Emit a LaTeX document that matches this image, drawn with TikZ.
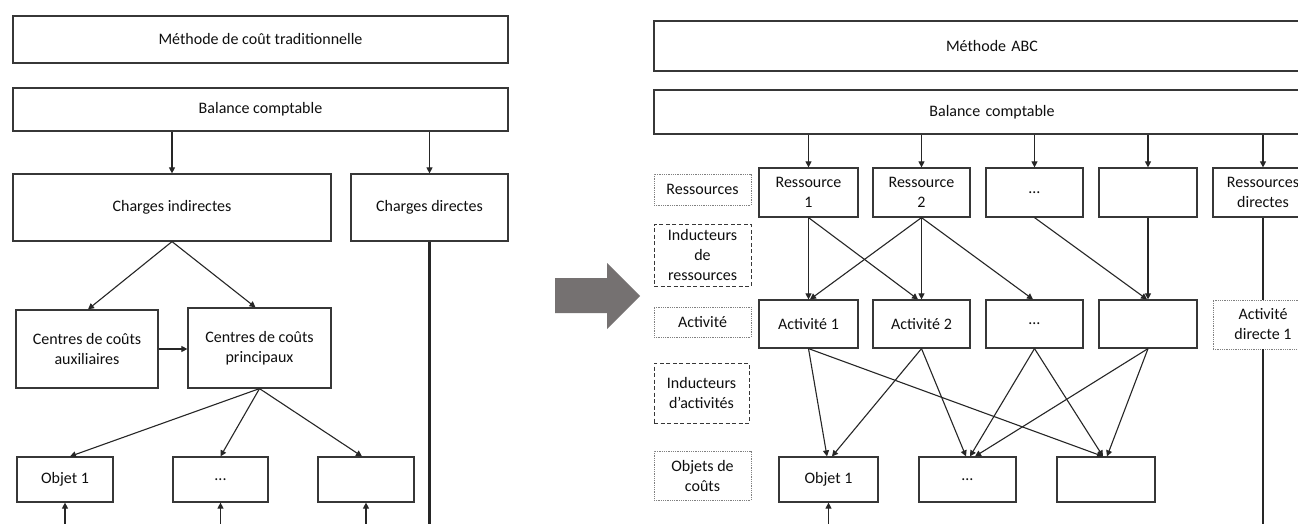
\documentclass[tikz,border=0pt]{standalone}
\usepackage{fontspec}
\setmainfont{Carlito}
\usetikzlibrary{arrows.meta}
\definecolor{arrowgray}{RGB}{117,113,113}
\definecolor{linegray}{RGB}{55,55,55}
\definecolor{txt}{RGB}{15,15,15}
\begin{document}
\begin{tikzpicture}[x=1pt,y=-1pt,
  box/.style={draw=linegray, line width=1.2pt, fill=white, align=center, inner sep=0pt,
    text=txt, font=\fontsize{16}{20}\selectfont},
  dotbox/.style={box, draw=gray, line width=0.9pt, dash pattern=on 0.9pt off 0.9pt},
  dashbox/.style={box, draw=linegray, line width=1pt, dash pattern=on 4pt off 2.5pt},
  arr/.style={draw=black!85, line width=1.1pt, -{Triangle[length=6pt,width=6pt]}},
  ln/.style={draw=black!85, line width=1.1pt}]
\useasboundingbox (0,0) rectangle (1298,524);
\clip (0,0) rectangle (1298,524);
\fill[white] (0,0) rectangle (1298,524);
\coordinate (bot) at (0,530);

% ---------------- left panel ----------------
\node[box, minimum width=495pt, minimum height=47pt] (t1) at (260.5,39.5) {Méthode de coût traditionnelle};
\node[box, minimum width=495pt, minimum height=43pt] (b1) at (260.5,109.5) {Balance comptable};
\node[box, minimum width=318pt, minimum height=67pt] (ci) at (172,207.5) {Charges indirectes};
\node[box, minimum width=157pt, minimum height=67pt] (cd) at (429.5,207.5) {Charges directes};
\node[box, minimum width=142pt, minimum height=78pt] (caux) at (87,349) {Centres de coûts\\auxiliaires};
\node[box, minimum width=143pt, minimum height=80pt] (cpr) at (259.5,348) {Centres de coûts\\principaux};
\node[box, minimum width=96pt, minimum height=45pt] (o1) at (65,479.5) {Objet 1};
\node[box, minimum width=95pt, minimum height=45pt] (o2) at (220.5,479.5) {...};
\node[box, minimum width=96pt, minimum height=45pt] (o3) at (366,479.5) {};

\draw[arr] (ci.north |- b1.south) -- (ci.north);
\draw[arr] (cd.north |- b1.south) -- (cd.north);
\draw[arr] (ci.south) -- ([xshift=1pt]caux.north);
\draw[arr] (ci.south) -- ([xshift=-4pt]cpr.north);
\draw[arr] (caux.east) -- (caux.east -| cpr.west);
\draw[arr] (cpr.south) -- ([xshift=5pt]o1.north);
\draw[arr] (cpr.south) -- (o2.north);
\draw[arr] (cpr.south) -- ([xshift=-4pt]o3.north);
\draw[arr] (o1.south |- bot) -- (o1.south);
\draw[arr] (o2.south |- bot) -- (o2.south);
\draw[arr] (o3.south |- bot) -- (o3.south);
\draw[draw=black!85, line width=2.6pt] (cd.south) -- (cd.south |- bot);

% ---------------- big arrow ----------------
\fill[arrowgray] (555,278) -- (607,278) -- (607,263) -- (640,296) -- (607,329) -- (607,313) -- (555,313) -- cycle;

% ---------------- right panel ----------------
\node[box, minimum width=676pt, minimum height=50pt, text width=288pt] (t2) at (992,46) {Méthode ABC};
\node[box, minimum width=676pt, minimum height=44pt, text width=288pt] (b2) at (992,112) {Balance comptable};

% labels
\node[dotbox, minimum width=97pt, minimum height=31pt] (l1) at (702.5,189.5) {Ressources};
\node[dashbox, minimum width=97pt, minimum height=62pt] (l2) at (702.5,255) {Inducteurs\\de\\ressources};
\node[dotbox, minimum width=97pt, minimum height=30pt] (l3) at (702.5,322) {Activité};
\node[dashbox, minimum width=95pt, minimum height=60pt] (l4) at (701.5,393) {Inducteurs\\d’activités};
\node[dotbox, minimum width=97pt, minimum height=49pt] (l5) at (702.5,475.5) {Objets de\\coûts};

% row 1
\node[box, minimum width=99pt, minimum height=49pt] (r1) at (808.5,192.5) {Ressource\\1};
\node[box, minimum width=97pt, minimum height=49pt] (r2) at (921.5,192.5) {Ressource\\2};
\node[box, minimum width=97pt, minimum height=49pt] (r3) at (1034.5,192.5) {…};
\node[box, minimum width=98pt, minimum height=49pt] (r4) at (1148,192.5) {};
\node[box, minimum width=100pt, minimum height=49pt] (rd) at (1263,192.5) {Ressources\\directes};

% row 2
\node[box, minimum width=99pt, minimum height=48pt] (a1) at (808.5,324) {Activité 1};
\node[box, minimum width=97pt, minimum height=48pt] (a2) at (921.5,324) {Activité 2};
\node[box, minimum width=97pt, minimum height=48pt] (a3) at (1034.5,324) {…};
\node[box, minimum width=98pt, minimum height=48pt] (a4) at (1148,324) {};
\node[dotbox, minimum width=100pt, minimum height=49pt] (ad) at (1263,324.5) {Activité\\directe 1};

% row 3
\node[box, minimum width=99pt, minimum height=45pt] (ob1) at (828.5,479.5) {Objet 1};
\node[box, minimum width=97pt, minimum height=45pt] (ob2) at (967.5,479.5) {…};
\node[box, minimum width=98pt, minimum height=45pt] (ob3) at (1106,479.5) {};

% balance -> row 1
\foreach \n in {r1,r2,r3,r4,rd}
  \draw[arr] (\n.north |- b2.south) -- (\n.north);

% row 1 -> row 2
\draw[arr] (r1.south) -- (a1.north);
\draw[arr] (r1.south) -- ([xshift=-3.5pt]a2.north);
\draw[arr] (r2.south) -- ([xshift=1.5pt]a1.north);
\draw[arr] (r2.south) -- (a2.north);
\draw[arr] (r2.south) -- ([xshift=-1.5pt]a3.north);
\draw[arr] (r3.south) -- ([xshift=-1pt]a4.north);
\draw[arr] (r4.south) -- (a4.north);
\draw[ln] (rd.south) -- (ad.north);
\draw[ln] (ad.south) -- (ad.south |- bot);

% row 2 -> row 3
\draw[arr] (a1.south) -- ([xshift=-1.5pt]ob1.north);
\draw[arr] (a1.south) -- ([xshift=-3pt]ob3.north);
\draw[arr] (a2.south) -- ([xshift=3.5pt]ob1.north);
\draw[arr] (a2.south) -- ([xshift=-1.5pt]ob2.north);
\draw[arr] (a3.south) -- ([xshift=2.5pt]ob2.north);
\draw[arr] (a3.south) -- ([xshift=-3pt]ob3.north);
\draw[arr] (a4.south) -- ([xshift=7.5pt]ob2.north);
\draw[arr] (a4.south) -- ([xshift=1pt]ob3.north);
\draw[arr] (ob1.south |- bot) -- (ob1.south);
\end{tikzpicture}
\end{document}
